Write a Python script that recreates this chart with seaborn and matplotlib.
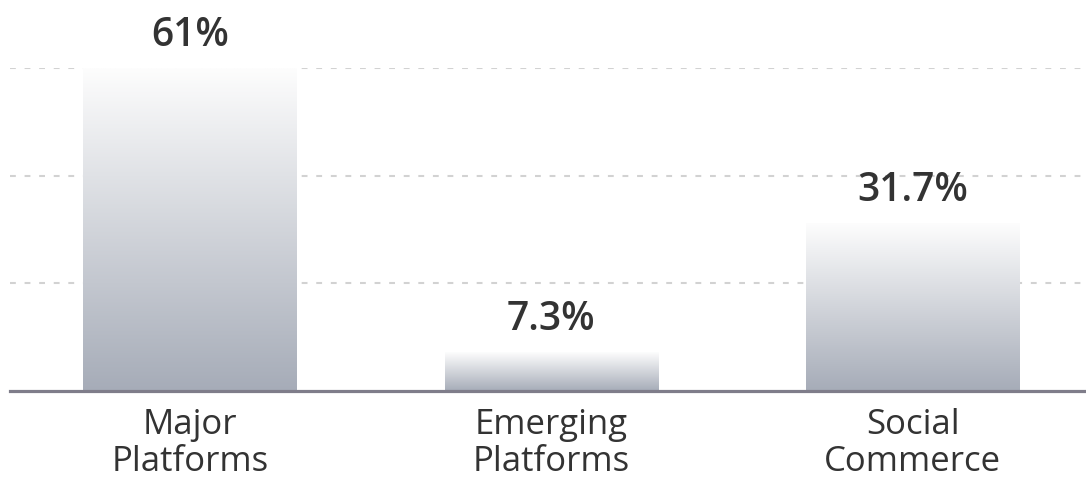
import numpy as np
import pandas as pd
import matplotlib.pyplot as plt
import seaborn as sns
from matplotlib.colors import LinearSegmentedColormap

categories = ["Major\nPlatforms", "Emerging\nPlatforms", "Social\nCommerce"]
shares = [61.0, 7.3, 31.7]
value_labels = ["61%", "7.3%", "31.7%"]

df = pd.DataFrame({"category": categories, "share": shares})

sns.set_style("white")
plt.rcParams["font.family"] = ["Open Sans", "DejaVu Sans"]

W, H = 1086, 484
fig = plt.figure(figsize=(W / 100, H / 100), dpi=100)
ax = fig.add_axes([10 / W, (H - 391) / H, 1076 / W, (391 - 68) / H])

sns.barplot(data=df, x="category", y="share", ax=ax, width=0.59,
            color="#a7adb9", saturation=1, linewidth=0)

ymax = max(shares)

# vertical gradient inside each bar: light at top, slate grey at bottom
cmap = LinearSegmentedColormap.from_list("bar", ["#a6acb8", "#fdfdfd"])
grad = np.linspace(0, 1, 256).reshape(-1, 1)
for patch in ax.patches:
    x0, y0 = patch.get_x(), patch.get_y()
    w, h = patch.get_width(), patch.get_height()
    patch.set_facecolor("none")
    im = ax.imshow(grad, cmap=cmap, aspect="auto", origin="lower",
                   extent=[x0, x0 + w, y0, y0 + h], zorder=1)
    im.set_clip_path(patch)
ax.set_xlim(-0.498, 2.479)
ax.set_ylim(0, ymax)

# dotted gridlines
ax.set_yticks([ymax / 3, 2 * ymax / 3, ymax])
ax.yaxis.grid(True, color="#d2d2d2", linewidth=1.5, linestyle=(0, (2.8, 4.2)), zorder=0)
ax.set_axisbelow(True)
ax.tick_params(axis="y", left=False, labelleft=False)

for s in ["top", "right", "left"]:
    ax.spines[s].set_visible(False)
ax.spines["bottom"].set_color("#7f7d8a")
ax.spines["bottom"].set_linewidth(2.3)
ax.spines["bottom"].set_zorder(5)

ax.set_xlabel("")
ax.set_ylabel("")
ax.tick_params(axis="x", bottom=False, pad=9, labelsize=25, labelcolor="#333333")
for lab in ax.get_xticklabels():
    lab.set_linespacing(1.12)
    lab.set_fontweight("medium")

for i, (v, t) in enumerate(zip(shares, value_labels)):
    ax.annotate(t, (i, v), xytext=(0, 22), textcoords="offset pixels",
                ha="center", va="baseline", fontsize=28, fontweight="semibold",
                color="#333333", annotation_clip=False)

fig.savefig("out.png", dpi=100)
